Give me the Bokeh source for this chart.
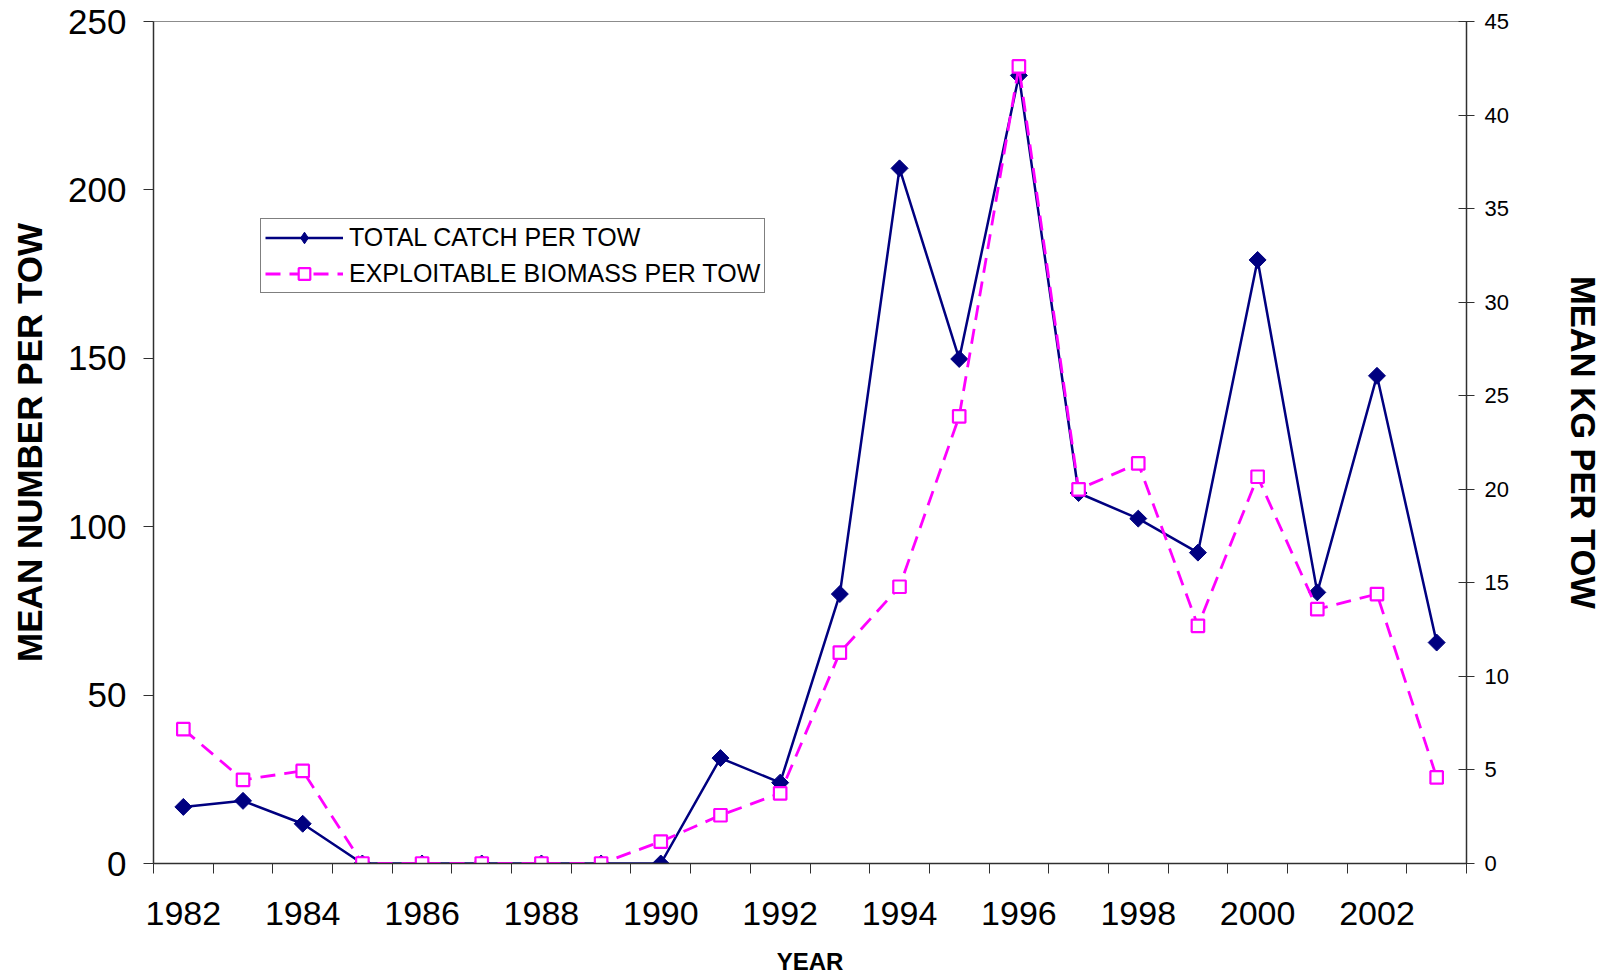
import math
from bokeh.plotting import figure
from bokeh.models import Range1d, LinearAxis, FixedTicker, Legend, LegendItem
from bokeh.embed import file_html
from bokeh.resources import INLINE

# ---- data ----
years = list(range(1982, 2004))
total_catch = [16.8, 18.6, 11.8, 0, 0, 0, 0, 0, 0, 31.3, 24.0, 80.0, 206.4, 149.8,
               234.0, 110.0, 102.4, 92.3, 179.2, 80.5, 144.8, 65.6]
biomass_kg = [7.18, 4.47, 4.95, 0, 0, 0, 0, 0, 1.17, 2.58, 3.75, 11.27, 14.79, 23.9,
              42.6, 20.0, 21.38, 12.7, 20.67, 13.59, 14.4, 4.6]
label_years = [1982, 1984, 1986, 1988, 1990, 1992, 1994, 1996, 1998, 2000, 2002]
left_ticks = [0, 50, 100, 150, 200, 250]
right_ticks = [0, 5, 10, 15, 20, 25, 30, 35, 40, 45]

FONT = "Liberation Sans"
AX = "#303030"
NAVY = "#000080"
MAGENTA = "#FF00FF"

p = figure(width=1604, height=978, output_backend="svg", toolbar_location=None,
           x_range=Range1d(1981.5, 2003.5), y_range=Range1d(0, 250),
           min_border_left=153, min_border_right=138, min_border_top=21,
           min_border_bottom=115, x_axis_type=None, y_axis_type=None)
p.background_fill_color = "white"
p.border_fill_color = "white"
p.outline_line_color = "#8c8c8c"
p.outline_line_width = 1
p.extra_y_ranges = {"kg": Range1d(0, 45)}

# x axis
boundaries = [y - 0.5 for y in years] + [years[-1] + 0.5]
xaxis = LinearAxis(ticker=FixedTicker(ticks=label_years, minor_ticks=boundaries))
xaxis.major_tick_line_color = None
xaxis.major_tick_out = 0
xaxis.major_tick_in = 0
xaxis.minor_tick_out = 10
xaxis.minor_tick_in = 0
xaxis.minor_tick_line_color = AX
xaxis.axis_line_color = AX
xaxis.axis_line_width = 1.5
xaxis.major_label_text_font = FONT
xaxis.major_label_text_font_size = "34px"
xaxis.major_label_text_color = "black"
xaxis.major_label_standoff = 28
xaxis.axis_label = "YEAR"
xaxis.axis_label_text_font = FONT
xaxis.axis_label_text_font_style = "bold"
xaxis.axis_label_text_font_size = "24px"
xaxis.axis_label_text_color = "black"
xaxis.axis_label_standoff = 20
p.add_layout(xaxis, "below")

# left axis
yaxis = LinearAxis(ticker=FixedTicker(ticks=left_ticks))
yaxis.major_tick_out = 10
yaxis.major_tick_in = 0
yaxis.major_tick_line_color = AX
yaxis.minor_tick_line_color = None
yaxis.axis_line_color = AX
yaxis.axis_line_width = 1.5
yaxis.major_label_text_font = FONT
yaxis.major_label_text_font_size = "35px"
yaxis.major_label_text_color = "black"
yaxis.major_label_standoff = 17
yaxis.axis_label = "MEAN NUMBER PER TOW"
yaxis.axis_label_text_font = FONT
yaxis.axis_label_text_font_style = "bold"
yaxis.axis_label_text_font_size = "35px"
yaxis.axis_label_text_color = "black"
yaxis.axis_label_standoff = 16
p.add_layout(yaxis, "left")

# right axis
raxis = LinearAxis(y_range_name="kg", ticker=FixedTicker(ticks=right_ticks))
raxis.major_tick_out = 8
raxis.major_tick_in = 8
raxis.major_tick_line_color = AX
raxis.minor_tick_line_color = None
raxis.axis_line_color = AX
raxis.axis_line_width = 1.5
raxis.major_label_text_font = FONT
raxis.major_label_text_font_size = "22px"
raxis.major_label_text_color = "black"
raxis.major_label_standoff = 10
raxis.axis_label = "MEAN KG PER TOW"
raxis.axis_label_text_font = FONT
raxis.axis_label_text_font_style = "bold"
raxis.axis_label_text_font_size = "34.5px"
raxis.axis_label_text_color = "black"
raxis.axis_label_standoff = 52
p.add_layout(raxis, "right")

# grid
p.ygrid.ticker = FixedTicker(ticks=[50, 100, 150, 200, 250])
p.ygrid.grid_line_color = "#555555"
p.ygrid.grid_line_width = 1
p.xgrid.visible = False

# series
l1 = p.line(years, total_catch, line_color=NAVY, line_width=2.5)
s1 = p.scatter(years, total_catch, marker="square", angle=math.pi / 4, size=12,
               fill_color=NAVY, line_color=NAVY, line_width=1)

l2 = p.line(years, biomass_kg, y_range_name="kg", line_color=MAGENTA,
            line_width=2.8, line_dash="15 9")
s2 = p.scatter(years, biomass_kg, y_range_name="kg", marker="square", size=12.5,
               fill_color="white", line_color=MAGENTA, line_width=2.2)

# legend-only diamond (no data drawn)
nan = float("nan")
key1 = p.scatter([nan], [nan], marker="diamond", size=12,
                 fill_color=NAVY, line_color=NAVY, line_width=1)

legend = Legend(items=[LegendItem(label="TOTAL CATCH PER TOW", renderers=[l1, key1]),
                       LegendItem(label="EXPLOITABLE BIOMASS PER TOW", renderers=[l2, s2])],
                location=(107, 570))
legend.label_text_font = FONT
legend.label_text_font_size = "25px"
legend.label_text_color = "black"
legend.border_line_color = "black"
legend.border_line_width = 1
legend.background_fill_color = "white"
legend.background_fill_alpha = 1
legend.padding = 4
legend.spacing = 7
legend.margin = 0
legend.glyph_width = 78
legend.glyph_height = 29
legend.label_height = 29
legend.label_standoff = 6
p.add_layout(legend, "center")

open("out.html", "w").write(file_html(p, INLINE))
